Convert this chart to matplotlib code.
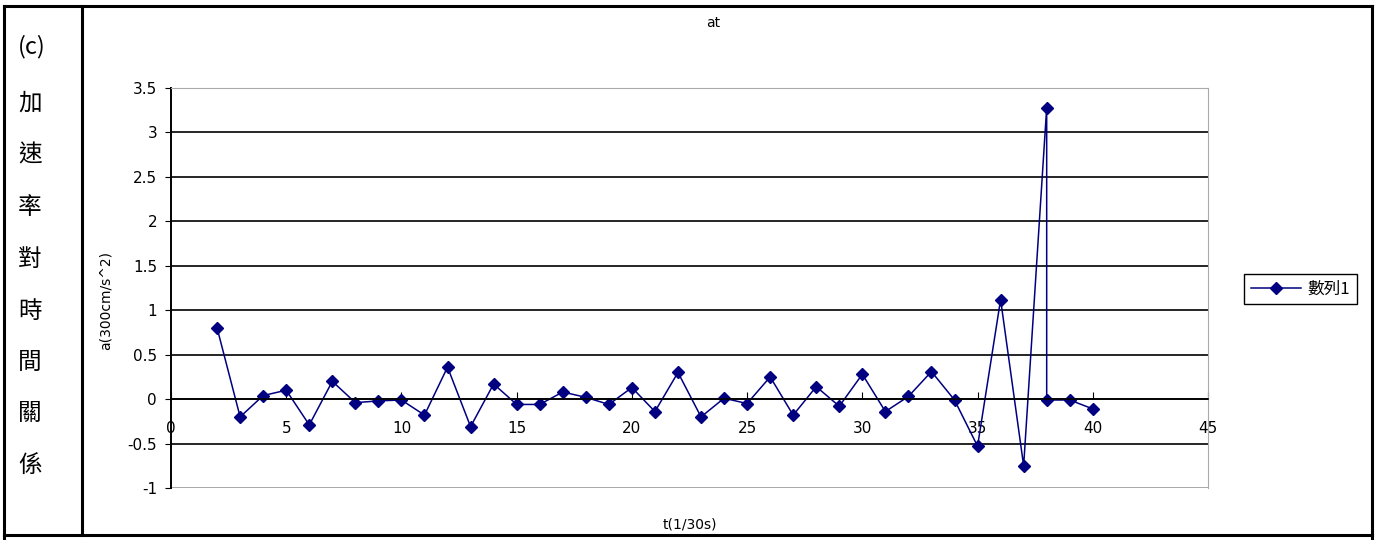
import numpy as np
import matplotlib.pyplot as plt
from matplotlib.lines import Line2D

plt.rcParams['font.family'] = ['DejaVu Sans', 'Noto Sans CJK TC']

# data (t in 1/30 s, a)
t = [2, 3, 4, 5, 6, 7, 8, 9, 10, 11, 12, 13, 14, 15, 16, 17, 18, 19, 20,
     21, 22, 23, 24, 25, 26, 27, 28, 29, 30, 31, 32, 33, 34, 35, 36, 37,
     38, 38, 39, 40]
a = [0.80, -0.20, 0.04, 0.10, -0.29, 0.20, -0.04, -0.02, -0.01, -0.18,
     0.36, -0.31, 0.17, -0.06, -0.06, 0.08, 0.02, -0.06, 0.13, -0.14,
     0.30, -0.20, 0.01, -0.05, 0.25, -0.18, 0.14, -0.08, 0.28, -0.14,
     0.03, 0.31, -0.01, -0.53, 1.12, -0.75, 3.28, -0.01, -0.01, -0.11]
xticks = [0, 5, 10, 15, 20, 25, 30, 35, 40, 45]
yticks = [-1, -0.5, 0, 0.5, 1, 1.5, 2, 2.5, 3, 3.5]
ylabels = ['-1', '-0.5', '0', '0.5', '1', '1.5', '2', '2.5', '3', '3.5']
side_text = ['(c)', '加', '速', '率', '對', '時', '間', '關', '係']
series_name = '數列1'

W, H = 1377, 540
fig = plt.figure(figsize=(W / 100, H / 100), dpi=100)

def px(x, y):
    return x / W, 1 - y / H

# table frame
frame = dict(color='black', lw=2.2, transform=fig.transFigure)
fig.add_artist(Line2D([4 / W, 1372 / W], [1 - 6 / H, 1 - 6 / H], **frame))
fig.add_artist(Line2D([4 / W, 1372 / W], [1 - 535 / H, 1 - 535 / H], **frame))
fig.add_artist(Line2D([4 / W, 4 / W], [0, 1 - 6 / H], **frame))
fig.add_artist(Line2D([82 / W, 82 / W], [1 - 535 / H, 1 - 6 / H], **frame))
fig.add_artist(Line2D([1372 / W, 1372 / W], [0, 1 - 6 / H], **frame))

# left column
ys = [47, 103, 155, 207, 259, 311, 362, 414, 466]
for s, yy in zip(side_text, ys):
    fig.text(*px(18, yy), s, fontsize=17, va='center', ha='left',
             family=['Noto Sans CJK TC', 'DejaVu Sans'])

# chart
ax = fig.add_axes([171 / W, 1 - 488 / H, (1208 - 171) / W, (488 - 88) / H])
ax.plot(t, a, color='#000080', lw=1.1, marker='D', markersize=6,
        label=series_name)
ax.set_xlim(0, 45)
ax.set_ylim(-1, 3.5)
ax.set_xticks(xticks)
ax.set_yticks(yticks)
ax.set_yticklabels(ylabels)
for yv in yticks[1:-1]:
    ax.axhline(yv, color='black', lw=1.2, zorder=0)
ax.axhline(-1, color='#999999', lw=1.2, zorder=0)
ax.spines['bottom'].set_position(('data', 0))
ax.spines['bottom'].set_linewidth(1.2)
ax.spines['left'].set_linewidth(1.4)
ax.spines['top'].set_color('#aaaaaa')
ax.spines['right'].set_color('#aaaaaa')
ax.tick_params(axis='x', direction='in', length=5, pad=16, labelsize=11)
ax.tick_params(axis='y', direction='out', length=4, pad=6, labelsize=11)

fig.text(*px(713, 23), 'at', fontsize=10, ha='center', va='center')
fig.text(*px(690, 525), 't(1/30s)', fontsize=10, ha='center', va='center')
fig.text(*px(106, 300), 'a(300cm/s^2)', fontsize=10, ha='center',
         va='center', rotation=90)

fig.legend(loc='center left', bbox_to_anchor=(1236 / W, 1 - 289 / H),
           prop={'family': ['Noto Sans CJK TC', 'DejaVu Sans'], 'size': 12},
           frameon=True, fancybox=False, edgecolor='black', framealpha=1,
           handlelength=3.0, borderpad=0.4, handletextpad=0.4)

fig.savefig('out.png', dpi=100)
